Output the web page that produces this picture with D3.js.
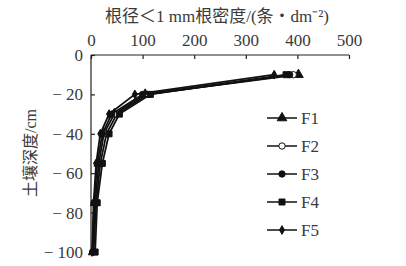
<!DOCTYPE html>
<meta charset="utf-8">
<style>
body { margin: 0; background: #fff; }
text { font-family: "Liberation Serif", "Noto Sans CJK SC", serif; fill: #3a3a3a; }
.axis path, .axis line { stroke: #222; stroke-width: 1.2px; }
</style>
<body><svg width="406" height="266"></svg></body>
<script src="https://d3js.org/d3.v7.min.js"></script>
<script>

var depths = [-10, -20, -30, -40, -55, -75, -100];
var seriesNames = ["F1", "F2", "F3", "F4", "F5"];
var F1 = [402, 105, 45, 25, 15, 8, 4];
var F2 = [392, 110, 50, 30, 18, 10, 5];
var F3 = [385, 100, 40, 22, 12, 6, 3];
var F4 = [378, 115, 55, 35, 22, 12, 8];
var F5 = [355, 85, 35, 18, 10, 5, 2];
var xTicks = [0, 100, 200, 300, 400, 500];
var yTicks = [0, -20, -40, -60, -80, -100];

var series = [F1, F2, F3, F4, F5];
var symbols = [d3.symbolTriangle, d3.symbolCircle, d3.symbolCircle, d3.symbolSquare, d3.symbolDiamond];
var symSize = [40, 32, 32, 36, 22];
var symFill = ["#111", "#fff", "#111", "#111", "#111"];

var svg = d3.select("svg");

var x = d3.scaleLinear().domain([0, 500]).range([91, 349]);
var y = d3.scaleLinear().domain([0, -100]).range([55, 252]);

svg.append("g")
    .attr("class", "axis")
    .attr("transform", "translate(0,55)")
    .call(d3.axisTop(x).tickValues(xTicks).tickSizeInner(-4).tickSizeOuter(0).tickPadding(9))
    .call(function(g) {
      g.selectAll("text").attr("font-size", 17).attr("dy", "0");
      g.select(".domain").attr("d", "M91,0H349");
    });

svg.append("g")
    .attr("class", "axis")
    .attr("transform", "translate(91,0)")
    .call(d3.axisLeft(y).tickValues(yTicks).tickSizeInner(-4).tickSizeOuter(0).tickPadding(8)
      .tickFormat(function(d) { return d === 0 ? "0" : "\u2212 " + Math.abs(d); }))
    .call(function(g) {
      g.selectAll("text").attr("font-size", 17);
      g.select(".domain").attr("d", "M0,55V252");
    });

svg.append("text")
    .attr("x", 217)
    .attr("y", 22)
    .attr("text-anchor", "middle")
    .attr("font-size", 17)
    .text("根径＜1 mm根密度/(条・dm\u207B\u00B2)");

svg.append("text")
    .attr("transform", "translate(36,153) rotate(-90)")
    .attr("text-anchor", "middle")
    .attr("font-size", 16)
    .text("土壤深度/cm");

var line = d3.line()
    .x(function(d) { return x(d[0]); })
    .y(function(d) { return y(d[1]); });

series.forEach(function(vals, i) {
  var pts = vals.map(function(v, j) { return [v, depths[j]]; });
  svg.append("path")
      .datum(pts)
      .attr("fill", "none")
      .attr("stroke", "#111")
      .attr("stroke-width", 1.8)
      .attr("d", line);
  svg.selectAll(null)
      .data(pts)
      .enter().append("path")
      .attr("transform", function(d) { return "translate(" + x(d[0]) + "," + y(d[1]) + ")"; })
      .attr("d", d3.symbol().type(symbols[i]).size(symSize[i]))
      .attr("fill", symFill[i])
      .attr("stroke", "#111")
      .attr("stroke-width", 1);
});

var legend = svg.append("g");
seriesNames.forEach(function(name, i) {
  var ly = 118 + i * 28;
  legend.append("line")
      .attr("x1", 267).attr("x2", 297)
      .attr("y1", ly).attr("y2", ly)
      .attr("stroke", "#111").attr("stroke-width", 1.5);
  legend.append("path")
      .attr("transform", "translate(282," + ly + ")")
      .attr("d", d3.symbol().type(symbols[i]).size(symSize[i]))
      .attr("fill", symFill[i])
      .attr("stroke", "#111")
      .attr("stroke-width", 1);
  legend.append("text")
      .attr("x", 301)
      .attr("y", ly + 6)
      .attr("font-size", 17)
      .text(name);
});

</script>
